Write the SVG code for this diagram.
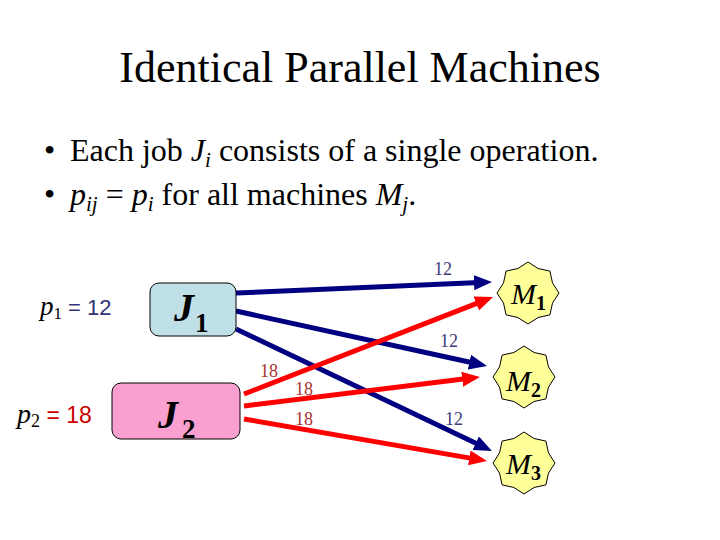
<svg xmlns="http://www.w3.org/2000/svg" xmlns:xlink="http://www.w3.org/1999/xlink" width="720" height="540" viewBox="0 0 720 540">
<style>
.t{font-family:"Liberation Serif","Times New Roman",serif;fill:#000}
.a{font-family:"Liberation Sans",Arial,sans-serif}
.it{font-style:italic}
.b{font-weight:bold}
.blue{stroke:#000080;stroke-width:5;fill:none}
.red{stroke:#ff0000;stroke-width:5;fill:none}
.lb{font-family:"Liberation Serif","Times New Roman",serif;font-size:18px;text-anchor:middle}
.l12{fill:#3c3c78}
.l18{fill:#a83232}
.star{fill:#ffff99;stroke:#000;stroke-width:1}
.job{stroke:#000;stroke-width:1}
</style>
<defs>
<marker id="ab" markerUnits="userSpaceOnUse" viewBox="0 0 18 15" markerWidth="18" markerHeight="15" refX="5.4" refY="7.5" orient="auto"><path d="M0,0 L18,7.5 L0,15 z" fill="#000080"/></marker>
<marker id="ar" markerUnits="userSpaceOnUse" viewBox="0 0 18 15" markerWidth="18" markerHeight="15" refX="5.4" refY="7.5" orient="auto"><path d="M0,0 L18,7.5 L0,15 z" fill="#ff0000"/></marker>
<polygon id="star" class="star" points="0,-31 10.1,-24.5 21.9,-21.9 24.5,-10.1 31,0 24.5,10.1 21.9,21.9 10.1,24.5 0,31 -10.1,24.5 -21.9,21.9 -24.5,10.1 -31,0 -24.5,-10.1 -21.9,-21.9 -10.1,-24.5"/>
</defs>
<rect width="720" height="540" fill="#fff"/>
<text class="t" x="360" y="82" font-size="44" text-anchor="middle">Identical Parallel Machines</text>
<text class="t" font-size="32" x="44" y="161">•</text>
<text class="t" font-size="32" x="70" y="161">Each job <tspan class="it">J</tspan><tspan class="it" font-size="21" dy="6">i</tspan><tspan dy="-6"> consists of a single operation.</tspan></text>
<text class="t" font-size="32" x="44" y="205">•</text>
<text class="t" font-size="32" x="70" y="205"><tspan class="it">p</tspan><tspan class="it" font-size="21" dy="6">ij</tspan><tspan dy="-6"> = </tspan><tspan class="it">p</tspan><tspan class="it" font-size="21" dy="6">i</tspan><tspan dy="-6"> for all machines </tspan><tspan class="it">M</tspan><tspan class="it" font-size="21" dy="6">j</tspan><tspan dy="-6">.</tspan></text>
<g id="p1label"><text x="40" y="315" fill="#333377"><tspan class="t it" font-size="27" fill="#333377">p</tspan><tspan class="t" font-size="17" dy="4" fill="#333377">1</tspan><tspan class="a" font-size="22" dy="-4"> = 12</tspan></text></g>
<g id="p2label"><text x="17" y="423" fill="#cc0000"><tspan class="t it" font-size="28" fill="#cc0000">p</tspan><tspan class="t" font-size="18" dy="4" fill="#cc0000">2</tspan><tspan class="a" font-size="23" dy="-4"> = 18</tspan></text></g>
<g id="connectors">
<line class="blue" x1="236" y1="293" x2="479.4" y2="282.5" marker-end="url(#ab)"/>
<line class="blue" x1="236" y1="311" x2="474.7" y2="363.3" marker-end="url(#ab)"/>
<line class="blue" x1="236" y1="329" x2="480.6" y2="445.6" marker-end="url(#ab)"/>
<line class="red" x1="244" y1="394" x2="481.3" y2="301.6" marker-end="url(#ar)"/>
<line class="red" x1="244" y1="406" x2="467.5" y2="378.6" marker-end="url(#ar)"/>
<line class="red" x1="244" y1="419" x2="474.6" y2="458.9" marker-end="url(#ar)"/>
<text class="lb l12" x="443" y="275">12</text>
<text class="lb l12" x="449" y="347">12</text>
<text class="lb l12" x="454" y="425">12</text>
<text class="lb l18" x="269" y="377">18</text>
<text class="lb l18" x="304" y="395">18</text>
<text class="lb l18" x="304" y="425">18</text>
</g>
<g id="J1"><rect class="job" x="150" y="283" width="86" height="53" rx="9" fill="#bfe0e6"/><text class="t it b" x="174" y="321" font-size="40">J</text><text class="t b" x="195" y="332" font-size="27">1</text></g>
<g id="J2"><rect class="job" x="112" y="383" width="128" height="56" rx="9" fill="#f9a0d0"/><text class="t it b" x="158" y="428" font-size="40">J</text><text class="t b" x="182" y="438" font-size="27">2</text></g>
<g id="M1"><use xlink:href="#star" x="528" y="293"/><text class="t it" x="511" y="304" font-size="30">M</text><text class="t b" x="536" y="310" font-size="20">1</text></g>
<g id="M2"><use xlink:href="#star" x="524" y="377"/><text class="t it" x="506" y="391" font-size="30">M</text><text class="t b" x="531" y="397" font-size="20">2</text></g>
<g id="M3"><use xlink:href="#star" x="524" y="463"/><text class="t it" x="506" y="474" font-size="30">M</text><text class="t b" x="531" y="480" font-size="20">3</text></g>
</svg>
